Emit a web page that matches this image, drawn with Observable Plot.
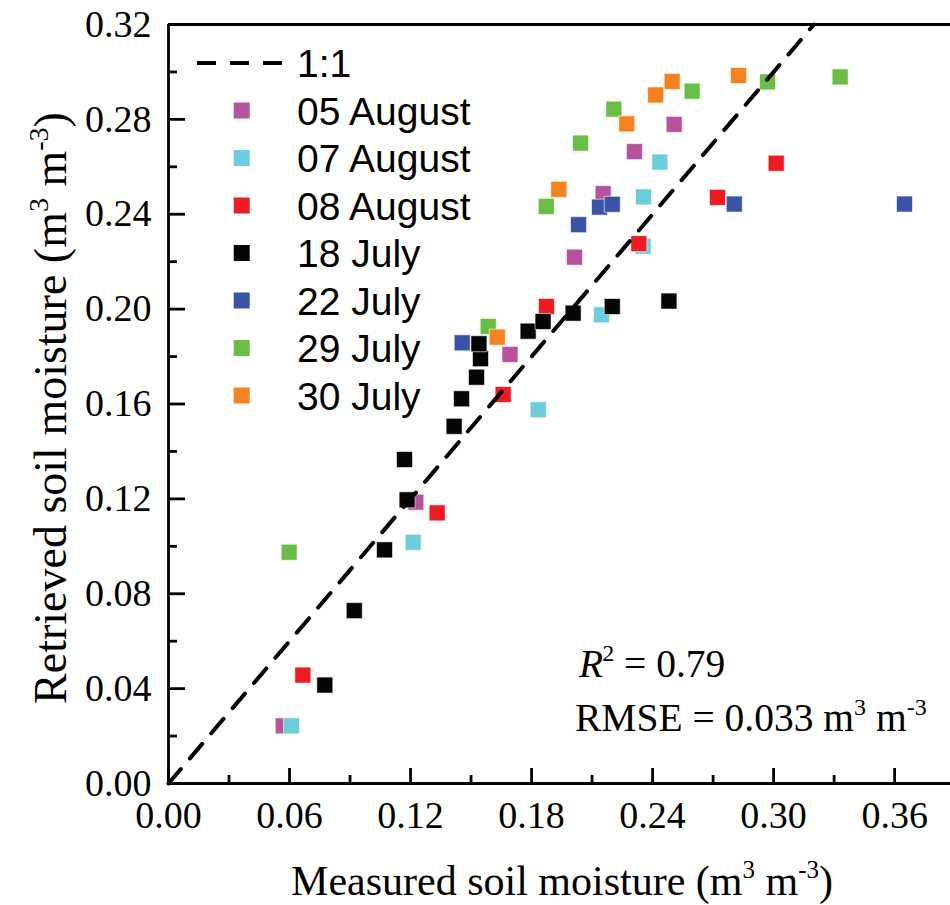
<!DOCTYPE html>
<html><head><meta charset="utf-8">
<script src="https://cdn.jsdelivr.net/npm/d3@7"></script>
<script src="https://cdn.jsdelivr.net/npm/@observablehq/plot@0.6"></script>
<style>body{margin:0;background:#fff} #chart{width:950px;height:905px}</style>
</head><body><div id="chart"></div>
<script>
// ---- data ----
const series = ["05 August","07 August","08 August","18 July","22 July","29 July","30 July"];
const seriesColors = ["#B7529F","#6CCDDC","#ED1C24","#050505","#3A53A4","#6ABD45","#F58220"];

const aug05Measured  = [0.0569,0.1226,0.1693,0.2013,0.2155,0.2310,0.2507];
const aug05Retrieved = [0.0243,0.1186,0.1809,0.2219,0.2487,0.2664,0.2779];
const aug07Measured  = [0.0610,0.1213,0.1833,0.2147,0.2353,0.2355,0.2436];
const aug07Retrieved = [0.0243,0.1017,0.1576,0.1976,0.2265,0.2473,0.2620];
const aug08Measured  = [0.0666,0.1332,0.1659,0.1874,0.2332,0.2722,0.3013];
const aug08Retrieved = [0.0457,0.1141,0.1640,0.2011,0.2276,0.2471,0.2615];
const jul18Measured  = [0.0775,0.0921,0.1071,0.1183,0.1170,0.1416,0.1453,0.1527,0.1547,0.1539,0.1783,0.1857,0.2006,0.2200,0.2481];
const jul18Retrieved = [0.0415,0.0729,0.0985,0.1196,0.1366,0.1506,0.1622,0.1713,0.1791,0.1854,0.1907,0.1948,0.1983,0.2011,0.2034];
const jul22Measured  = [0.1456,0.2033,0.2137,0.2200,0.2805,0.3649];
const jul22Retrieved = [0.1858,0.2356,0.2430,0.2442,0.2443,0.2443];
const jul29Measured  = [0.0598,0.1585,0.1873,0.2043,0.2208,0.2596,0.2970,0.3330];
const jul29Retrieved = [0.0975,0.1927,0.2433,0.2700,0.2843,0.2919,0.2958,0.2979];
const jul30Measured  = [0.1630,0.1935,0.2272,0.2415,0.2497,0.2826];
const jul30Retrieved = [0.1882,0.2505,0.2781,0.2903,0.2960,0.2985];

const xTicks = [0.00,0.06,0.12,0.18,0.24,0.30,0.36];
const xMinorTicks = [0.03,0.09,0.15,0.21,0.27,0.33];
const yTicks = [0.00,0.04,0.08,0.12,0.16,0.20,0.24,0.28,0.32];
const yMinorTicks = [0.02,0.06,0.10,0.14,0.18,0.22,0.26,0.30];
const oneToOne = [0, 0.32];
const xDomain = [0, 0.3877];
const yDomain = [0, 0.32];

const measuredBySeries = [aug05Measured,aug07Measured,aug08Measured,jul18Measured,jul22Measured,jul29Measured,jul30Measured];
const retrievedBySeries = [aug05Retrieved,aug07Retrieved,aug08Retrieved,jul18Retrieved,jul22Retrieved,jul29Retrieved,jul30Retrieved];
const points = [];
series.forEach((s,i)=>measuredBySeries[i].forEach((m,j)=>points.push({date:s, measured:m, retrieved:retrievedBySeries[i][j]})));

// ---- layout ----
const W=950, H=905, mL=168, mR=0, mT=24, mB=122;
const plotW = W-mL-mR, plotH = H-mT-mB;
const lw = 2.8;

const chart = Plot.plot({
  width: W, height: H,
  marginLeft: mL, marginRight: mR, marginTop: mT, marginBottom: mB,
  style: {fontFamily: "'Liberation Serif', 'Times New Roman', serif", background: "#fff", overflow: "visible", color: "#000"},
  x: {domain: xDomain, label: null},
  y: {domain: yDomain, label: null},
  color: {domain: series, range: seriesColors},
  marks: [
    Plot.axisX(xTicks, {tickSize: 0, tickPadding: 18, tickFormat: d3.format(".2f"), fontSize: 38, label: null}),
    Plot.axisY(yTicks, {tickSize: 0, tickPadding: 17, tickFormat: d3.format(".2f"), fontSize: 38, label: null}),
    Plot.dot(points, {x: "measured", y: "retrieved", fill: "date", symbol: "square", r: 9.03, stroke: "#fff", strokeWidth: 0.6}),
    Plot.line(oneToOne, {x: d=>d, y: d=>d, stroke: "#000", strokeWidth: 4, strokeDasharray: "19,14"}),
    Plot.tickX(xTicks, {x: d=>d, insetTop: plotH-15, stroke: "#000", strokeWidth: lw}),
    Plot.tickX(xMinorTicks, {x: d=>d, insetTop: plotH-8, stroke: "#000", strokeWidth: lw}),
    Plot.tickY(yTicks, {y: d=>d, insetRight: plotW-17, stroke: "#000", strokeWidth: lw}),
    Plot.tickY(yMinorTicks, {y: d=>d, insetRight: plotW-9, stroke: "#000", strokeWidth: lw}),
    Plot.ruleY([yDomain[0]], {stroke: "#000", strokeWidth: lw}),
    Plot.ruleY([yDomain[1]], {stroke: "#000", strokeWidth: lw}),
    Plot.ruleX([xDomain[0]], {stroke: "#000", strokeWidth: lw})
  ]
});
document.getElementById("chart").appendChild(chart);

// ---- text: axis titles, annotations, legend ----
const svg = d3.select(chart);
const serif = "'Liberation Serif', 'Times New Roman', serif";
const sans = "'Liberation Sans', Arial, sans-serif";

function unitTitle(g, main, size) {
  const sup = Math.round(size*0.6), up = Math.round(size*0.4);
  g.append("tspan").text(main + "(m");
  g.append("tspan").attr("dy", -up).attr("font-size", sup).text("3");
  g.append("tspan").attr("dy", up).text(" m");
  g.append("tspan").attr("dy", -up).attr("font-size", sup).text("-3");
  g.append("tspan").attr("dy", up).text(")");
}
const xt = svg.append("text").attr("x", 562).attr("y", 895).attr("text-anchor", "middle")
  .attr("font-family", serif).attr("font-size", 42).attr("fill", "#000");
unitTitle(xt, "Measured soil moisture ", 42);
const yt = svg.append("text").attr("transform", "translate(66,408) rotate(-90)").attr("text-anchor", "middle")
  .attr("font-family", serif).attr("font-size", 46).attr("fill", "#000");
unitTitle(yt, "Retrieved soil moisture ", 46);

const ann = svg.append("g").attr("text-anchor", "start").attr("font-family", serif).attr("font-size", 39.5).attr("fill", "#000");
const r2 = ann.append("text").attr("x", 579).attr("y", 677);
r2.append("tspan").attr("font-style", "italic").text("R");
r2.append("tspan").attr("dx", -1).attr("dy", -16).attr("font-size", 24).text("2");
r2.append("tspan").attr("dy", 16).text(" = 0.79");
const rm = ann.append("text").attr("x", 575).attr("y", 731);
rm.append("tspan").text("RMSE = 0.033 m");
rm.append("tspan").attr("dy", -16).attr("font-size", 24).text("3");
rm.append("tspan").attr("dy", 16).text(" m");
rm.append("tspan").attr("dy", -16).attr("font-size", 24).text("-3");

// legend
const lg = svg.append("g").attr("text-anchor", "start").attr("font-family", sans).attr("font-size", 39).attr("fill", "#000");
const lx = 241.7, tx = 297, y0 = 63, step = 47.5;
lg.append("line").attr("x1", 197).attr("x2", 282).attr("y1", y0).attr("y2", y0)
  .attr("stroke", "#000").attr("stroke-width", 4).attr("stroke-dasharray", "19,14");
lg.append("text").attr("x", tx).attr("y", y0).attr("dy", "0.36em").text("1:1");
series.forEach((s,i)=>{
  const yy = y0 + step*(i+1);
  lg.append("rect").attr("x", lx-8).attr("y", yy-8).attr("width", 16).attr("height", 16).attr("fill", seriesColors[i]);
  lg.append("text").attr("x", tx).attr("y", yy).attr("dy", "0.36em").text(s);
});
</script>
</body></html>
